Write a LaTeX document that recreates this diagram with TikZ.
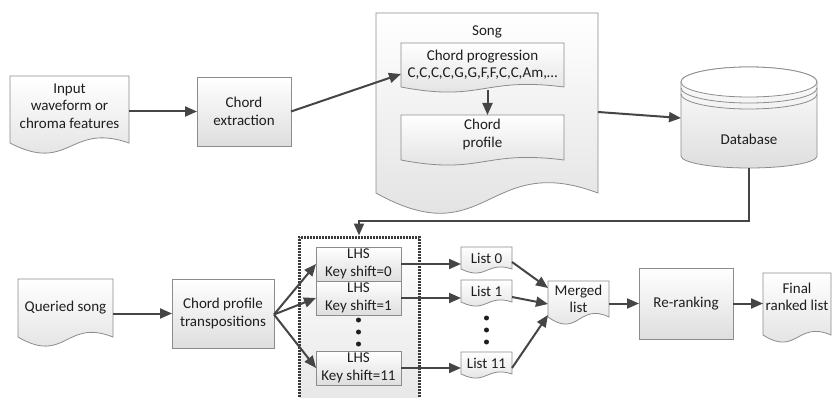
\documentclass[tikz,border=0pt]{standalone}
\usepackage{fontspec}
\setmainfont{Carlito}
\usetikzlibrary{arrows.meta,calc,backgrounds}
\definecolor{edgec}{HTML}{8C8C8C}
\definecolor{arrc}{HTML}{454545}
\definecolor{grpc}{HTML}{3A3A3A}
\definecolor{shadeb}{HTML}{DEDEDE}
\definecolor{txtc}{HTML}{1E1E1E}
\tikzset{
  shp/.style={draw=edgec, line width=0.8pt, top color=white, bottom color=shadeb},
  lbl/.style={align=center, font=\fontsize{15}{17.5}\selectfont, text=txtc, inner sep=0pt, outer sep=0pt},
  boxn/.style={lbl, rectangle, shp},
  docn/.style={lbl, rectangle, draw=none},
  conn/.style={draw=arrc, line width=2pt, -{Triangle[length=12pt,width=10pt]}},
  dotn/.style={circle, fill=txtc, inner sep=0pt, minimum size=5pt},
  grpn/.style={rectangle, draw=grpc, line width=3pt, dash pattern=on 2pt off 1pt, top color=white, bottom color=shadeb!75},
}
\newcommand{\docshape}[3]{%
  \path[shp] (#1.north west) -- (#1.north east) -- ($(#1.south east)+(0,#3)$)
   .. controls ($(#1.south)+(0,{#3-2.1*#2})$) and ($(#1.south)+(0,{#3+3.1*#2})$) .. ($(#1.south west)+(0,#3)$) -- cycle;}
\begin{document}
\begin{tikzpicture}[x=1pt,y=-1pt]
\begin{pgfonlayer}{background}
\fill[white] (0,0) rectangle (832,398);
\end{pgfonlayer}
\useasboundingbox (0,0) rectangle (832,398);

% ---------- top row ----------
\node[docn, minimum width=119pt, minimum height=60pt] (input) at (69.5,106) {Input\\waveform or\\chroma features};
\node[boxn, minimum width=94pt, minimum height=69pt] (chordext) at (244,111.5) {Chord\\extraction};
\node[docn, minimum width=222pt, minimum height=180pt] (song) at (487,103) {};
\node[lbl] (songlbl) at (487,32) {Song};
\node[docn, minimum width=163pt, minimum height=44pt] (cprog) at (482.5,65) {Chord progression\\C,C,C,C,G,G,F,F,C,C,Am,…};
\node[docn, minimum width=163pt, minimum height=39pt] (cprof) at (482.5,134.5) {Chord\\profile};
\node[docn, minimum width=136pt, minimum height=58pt] (db) at (749,139) {Database};

% ---------- bottom row ----------
\node[docn, minimum width=95pt, minimum height=58pt] (query) at (65.5,308) {Queried song};
\node[boxn, minimum width=102pt, minimum height=69pt] (trans) at (223,313.5) {Chord profile\\transpositions};
\node[grpn, minimum width=120pt, minimum height=172pt] (grp) at (359,323) {};
\node[boxn, minimum width=85pt, minimum height=34pt] (lhs0) at (358.5,264) {LHS\\Key shift=0};
\node[boxn, minimum width=85pt, minimum height=34pt] (lhs1) at (358.5,298) {LHS\\Key shift=1};
\node[boxn, minimum width=85pt, minimum height=34pt] (lhs11) at (358.5,368) {LHS\\Key shift=11};
\node[dotn] (ld1) at (358.5,320) {};
\node[dotn] (ld2) at (358.5,332) {};
\node[dotn] (ld3) at (358.5,344) {};
\node[docn, minimum width=51pt, minimum height=22pt] (list0) at (486.5,258) {List 0};
\node[docn, minimum width=51pt, minimum height=22pt] (list1) at (486.5,291) {List 1};
\node[docn, minimum width=51pt, minimum height=22pt] (list11) at (486.5,363) {List 11};
\node[dotn] (md1) at (486.5,318) {};
\node[dotn] (md2) at (486.5,330) {};
\node[dotn] (md3) at (486.5,342) {};
\node[docn, minimum width=61pt, minimum height=36pt] (merged) at (578.5,299) {Merged\\list};
\node[boxn, minimum width=94pt, minimum height=71pt] (rerank) at (686,303.5) {Re-ranking};
\node[docn, minimum width=68pt, minimum height=48pt] (final) at (797,297) {Final\\ranked list};

% ---------- shapes behind the texts ----------
\begin{pgfonlayer}{background}
\docshape{input}{10}{7}
\docshape{song}{20}{0}
\docshape{cprog}{5}{0}
\docshape{cprof}{5}{6}
\path[shp] (681,82) -- (681,156) arc[start angle=180,end angle=360,x radius=68pt,y radius=12pt]
  -- (817,82) arc[start angle=0,end angle=180,x radius=68pt,y radius=15pt] -- cycle;
\path[draw=edgec, line width=0.8pt, fill=white] (749,82) ellipse[x radius=68pt, y radius=15pt];
\draw[edgec, line width=0.8pt] (681,88) arc[start angle=180,end angle=360,x radius=68pt,y radius=15pt];
\draw[edgec, line width=0.8pt] (681,94) arc[start angle=180,end angle=360,x radius=68pt,y radius=15pt];
\docshape{query}{9}{0}
\docshape{list0}{4}{0}
\docshape{list1}{4}{0}
\docshape{list11}{4}{0}
\docshape{merged}{7}{0}
\docshape{final}{7}{14}
\end{pgfonlayer}

% ---------- connectors ----------
\draw[conn] (input.east |- chordext.west) -- (chordext.west);
\draw[conn] (chordext.east) -- ([yshift=-9pt]cprog.west);
\draw[conn] ([xshift=5pt,yshift=-3pt]cprog.south) -- ([xshift=5pt]cprof.north);
\draw[conn] ([yshift=-9pt]song.east) -- ([yshift=21pt]db.west);
\draw[conn] (db.south) |- ($(grp.north)+(0,-15)$) -- (grp.north);
\draw[conn] (query.east |- trans.west) -- (trans.west);
\draw[conn] ([yshift=-1pt]trans.east) -- (lhs0.west);
\draw[conn] ([yshift=-1pt]trans.east) -- (lhs1.west);
\draw[conn] ([yshift=-1pt]trans.east) -- (lhs11.west);
\draw[conn] (lhs0.east) -- (lhs0.east -| list0.west);
\draw[conn] (lhs1.east) -- (lhs1.east -| list1.west);
\draw[conn] (lhs11.east) -- (lhs11.east -| list11.west);
\draw[conn] ([yshift=-4pt]list0.east) -- ([yshift=11pt]merged.west);
\draw[conn] ([yshift=-6pt]list1.east) -- ([yshift=-5pt]merged.west);
\draw[conn] ([yshift=-5pt]list11.east) -- ([yshift=-16pt]merged.west);
\draw[conn] (merged.east |- rerank.west) -- (rerank.west);
\draw[conn] (rerank.east) -- (rerank.east -| final.west);
\end{tikzpicture}
\end{document}
